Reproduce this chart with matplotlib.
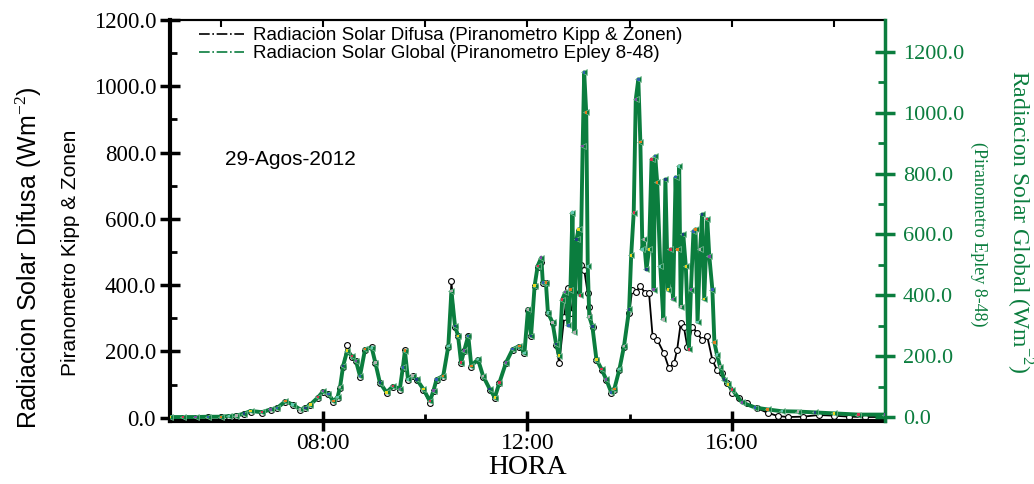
import numpy as np
import matplotlib.pyplot as plt
from matplotlib.lines import Line2D
from itertools import cycle, islice

plt.rcParams['font.family'] = ['Liberation Serif', 'DejaVu Serif']
plt.rcParams['mathtext.fontset'] = 'custom'
plt.rcParams['mathtext.rm'] = 'Liberation Serif'

GREEN = '#0b7d3e'
SANS = ['Liberation Sans', 'DejaVu Sans']

# diffuse radiation (Kipp & Zonen), W/m2 vs hour of day
dif_h = [5.0, 5.25, 5.5, 5.75, 6.0, 6.15, 6.3, 6.45, 6.58, 6.8, 6.97, 7.1, 7.26, 7.4,
         7.55, 7.65, 7.75, 7.9, 8.0, 8.1, 8.2, 8.28, 8.33, 8.39, 8.47, 8.56, 8.64, 8.72,
         8.82, 8.95, 9.02, 9.11, 9.24, 9.37, 9.5, 9.56, 9.6, 9.66, 9.75, 9.83, 9.96, 10.09,
         10.16, 10.22, 10.35, 10.45, 10.51, 10.58, 10.64, 10.7, 10.76, 10.84, 10.9, 11.03,
         11.13, 11.26, 11.36, 11.45, 11.58, 11.71, 11.84, 11.94, 12.01, 12.07, 12.14, 12.2,
         12.27, 12.3, 12.36, 12.4, 12.49, 12.56, 12.62, 12.72, 12.79, 12.85, 12.92, 12.98,
         13.05, 13.11, 13.18, 13.21, 13.28, 13.35, 13.45, 13.54, 13.64, 13.7, 13.8, 13.89,
         13.99, 14.05, 14.12, 14.21, 14.31, 14.38, 14.45, 14.54, 14.67, 14.77, 14.87, 14.93,
         15.0, 15.06, 15.13, 15.23, 15.32, 15.42, 15.52, 15.62, 15.71, 15.81, 15.91, 16.01,
         16.14, 16.3, 16.5, 16.7, 16.9, 17.1, 17.4, 17.7, 18.0, 18.3, 18.6, 19.0]
dif_v = [0, 0, 0, 1, 1, 3, 5, 10, 18, 15, 23, 28, 48, 38,
         23, 28, 38, 60, 78, 70, 48, 60, 90, 154, 220, 184, 170, 124,
         205, 214, 164, 104, 74, 94, 84, 150, 205, 114, 125, 114, 84, 43,
         80, 114, 124, 214, 411, 275, 245, 164, 200, 245, 154, 174,
         124, 84, 59, 104, 164, 205, 214, 194, 325, 245, 396, 456,
         470, 406, 406, 315, 285, 220, 164, 305, 390, 315, 380, 446,
         460, 446, 375, 335, 275, 174, 144, 114, 74, 84, 144, 214,
         315, 385, 380, 396, 375, 375, 245, 235, 195, 149, 164, 205,
         285, 275, 214, 275, 255, 235, 245, 174, 144, 134, 104, 74,
         59, 43, 28, 15, 5, 2, 3, 8, 6, 3, 2, 2]

# global radiation (Eppley 8-48), W/m2 vs hour of day
glo_h = [5.0, 5.25, 5.5, 5.75, 6.0, 6.15, 6.3, 6.45, 6.58, 6.8, 6.97, 7.1, 7.26, 7.4,
         7.55, 7.65, 7.75, 7.9, 8.0, 8.1, 8.2, 8.28, 8.33, 8.39, 8.47, 8.56, 8.64, 8.72,
         8.82, 8.95, 9.02, 9.11, 9.24, 9.37, 9.5, 9.56, 9.6, 9.66, 9.75, 9.83, 9.96, 10.09,
         10.16, 10.22, 10.35, 10.45, 10.51, 10.58, 10.64, 10.7, 10.76, 10.84, 10.9, 11.03,
         11.13, 11.26, 11.36, 11.45, 11.58, 11.71, 11.84, 11.94, 12.01, 12.07, 12.14, 12.2,
         12.27, 12.3, 12.36, 12.4, 12.49, 12.56, 12.62, 12.68, 12.74, 12.8, 12.84, 12.88,
         12.92, 12.96, 13.0, 13.03, 13.08, 13.11, 13.15, 13.18, 13.21, 13.27, 13.35, 13.45,
         13.54, 13.64, 13.7, 13.8, 13.89, 13.99, 14.03, 14.08, 14.12, 14.17, 14.21, 14.25,
         14.28, 14.33, 14.38, 14.43, 14.47, 14.5, 14.54, 14.6, 14.66, 14.7, 14.75, 14.8,
         14.85, 14.9, 14.94, 14.97, 15.0, 15.05, 15.1, 15.16, 15.2, 15.25, 15.29, 15.33,
         15.38, 15.42, 15.46, 15.52, 15.56, 15.62, 15.66, 15.71, 15.77, 15.85, 15.93, 16.01,
         16.2, 16.46, 16.7, 16.98, 17.3, 17.63, 18.0, 18.48, 19.0]
glo_v = [0, 0, 0, 1, 1, 3, 5, 11, 20, 16, 25, 30, 52, 41,
         25, 30, 41, 65, 85, 76, 52, 65, 98, 168, 218, 200, 185, 135,
         223, 228, 179, 113, 81, 102, 92, 163, 218, 124, 136, 124, 92, 52,
         87, 124, 135, 233, 414, 300, 267, 179, 218, 267, 168, 190,
         135, 92, 64, 113, 179, 223, 233, 211, 354, 267, 432, 497,
         524, 442, 442, 343, 311, 240, 202, 386, 410, 301, 419, 672,
         278, 584, 617, 400, 890, 1133, 1001, 495, 330, 298, 189, 157,
         124, 81, 92, 157, 233, 354, 531, 672, 1044, 1110, 903, 551,
         584, 485, 551, 847, 419, 857, 771, 495, 321, 781, 419, 551,
         387, 788, 551, 824, 363, 600, 495, 222, 419, 610, 617, 313,
         551, 666, 387, 650, 528, 419, 245, 205, 166, 123, 107, 90,
         48, 31, 25, 19, 18, 15, 12, 8, 8]

hour_ticks = [8, 12, 16]
hour_labels = ['08:00', '12:00', '16:00']

fig = plt.figure(figsize=(10.34, 4.84), dpi=100)
ax = fig.add_axes([0.1644, 0.1302, 0.6915, 0.8285])

ax.plot(dif_h, dif_v, color='black', lw=1.3, marker='o', ms=4.2,
        mfc='white', mec='black', mew=0.8, zorder=2)

ax2 = ax.twinx()
ax2.plot(glo_h, glo_v, color=GREEN, lw=2.8, marker='<', ms=4.5,
         mfc=GREEN, mec='#7fbf9a', mew=0.5, zorder=2)
dots = list(islice(cycle(['#e8d820', '#d83050', '#7a4fa0', '#3060b0',
                          '#e07b20', '#60c8b0', '#b0b0b0', '#204080']), len(glo_h)))
ax2.scatter(glo_h, glo_v, s=3, c=dots, marker='s', linewidths=0, zorder=3)

# axes ranges and ticks
ax.set_xlim(5, 19)
ax.set_ylim(-10, 1200)
ax2.set_ylim(-13, 1305)
ax.set_xticks(hour_ticks)
ax.set_xticklabels(hour_labels)
ax.set_xticks([6, 10, 14, 18], minor=True)
ax.set_yticks(np.arange(0, 1201, 200))
ax.set_yticklabels(['%.1f' % v for v in np.arange(0, 1201, 200)])
ax.set_yticks(np.arange(100, 1200, 200), minor=True)
ax2.set_yticks(np.arange(0, 1201, 200))
ax2.set_yticklabels(['%.1f' % v for v in np.arange(0, 1201, 200)])
ax2.set_yticks(np.arange(100, 1200, 200), minor=True)

ax.tick_params(axis='y', which='major', direction='inout', length=14, width=2.5,
               labelsize=16.5, pad=3)
ax.tick_params(axis='y', which='minor', direction='in', length=5, width=2)
ax.tick_params(axis='x', which='major', direction='inout', length=14, width=2.5,
               labelsize=17, pad=2)
ax.tick_params(axis='x', which='minor', direction='in', length=5, width=2)
ax2.tick_params(axis='y', which='major', direction='inout', length=14, width=2.5,
                labelsize=16, pad=6, color=GREEN, labelcolor=GREEN)
ax2.tick_params(axis='y', which='minor', direction='in', length=5, width=2, color=GREEN)

top = ax.secondary_xaxis('top')
top.set_xticks([6, 8, 10, 12, 14, 16, 18])
top.tick_params(direction='in', length=5, width=1.5, labeltop=False)
top.spines['top'].set_linewidth(1.5)

for s in ['left', 'bottom']:
    ax.spines[s].set_linewidth(3)
ax.spines['top'].set_linewidth(1.5)
ax.spines['right'].set_visible(False)
for s in ['left', 'bottom', 'top']:
    ax2.spines[s].set_visible(False)
ax2.spines['right'].set_color(GREEN)
ax2.spines['right'].set_linewidth(2.5)

# labels
fig.text(0.028, 0.467, 'Radiacion Solar Difusa (Wm$^{-2}$)', rotation=90,
         ha='center', va='center', fontsize=18, family=SANS)
fig.text(0.068, 0.477, 'Piranometro Kipp & Zonen', rotation=90,
         ha='center', va='center', fontsize=15, family=SANS)
fig.text(0.986, 0.541, 'Radiacion Solar Global (Wm$^{-2}$)', rotation=270,
         ha='center', va='center', fontsize=17, color=GREEN)
fig.text(0.946, 0.517, '(Piranometro Epley 8-48)', rotation=270,
         ha='center', va='center', fontsize=13, color=GREEN)
fig.text(0.5106, 0.035, 'HORA', ha='center', va='center', fontsize=20)
ax.text(0.077, 0.651, '29-Agos-2012', transform=ax.transAxes, va='center',
        fontsize=15, family=SANS)

handles = [Line2D([], [], color='black', lw=1.2, ls='-.'),
           Line2D([], [], color=GREEN, lw=1.2, ls='-.')]
ax.legend(handles, ['Radiacion Solar Difusa (Piranometro Kipp & Zonen)',
                    'Radiacion Solar Global (Piranometro Epley 8-48)'],
          loc='upper left', bbox_to_anchor=(0.025, 1.01), frameon=False,
          prop={'family': SANS, 'size': 13.5}, handlelength=2.4,
          labelspacing=0.05, handletextpad=0.5, borderaxespad=0.2)

fig.savefig('out.png', dpi=100)
